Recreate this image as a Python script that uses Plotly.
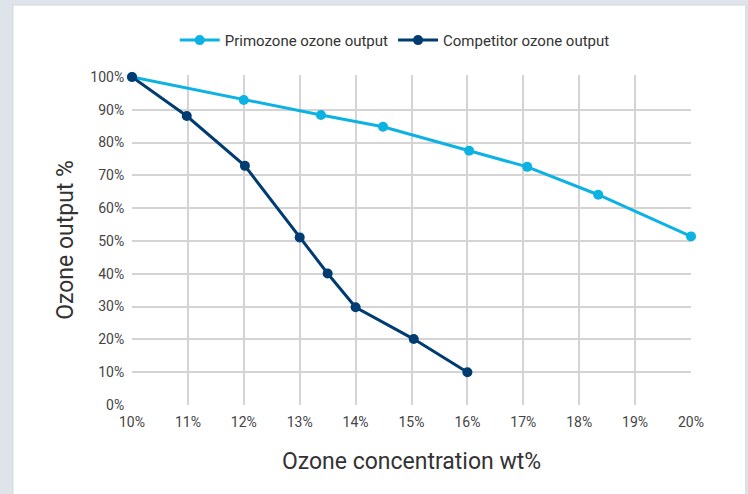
import plotly.graph_objects as go

prim_x = [10, 12, 13.38, 14.49, 16.03, 17.07, 18.34, 20]
prim_y = [100, 93.0, 88.4, 84.8, 77.5, 72.6, 64.1, 51.4]
comp_x = [10, 10.98, 12.02, 13.0, 13.5, 14.0, 15.04, 16.0]
comp_y = [100, 88.1, 72.9, 51.1, 40.1, 29.8, 20.1, 10.0]
x_ticks = list(range(10, 21))
y_ticks = list(range(0, 101, 10))

PRIM = "#0cb2e2"
COMP = "#003b71"
FONT = "Roboto, sans-serif"

fig = go.Figure()
fig.add_trace(go.Scatter(x=prim_x, y=prim_y, mode="lines+markers", name="Primozone ozone output",
                         line=dict(color=PRIM, width=3), marker=dict(size=10, color=PRIM),
                         cliponaxis=False))
fig.add_trace(go.Scatter(x=comp_x, y=comp_y, mode="lines+markers", name="Competitor ozone output",
                         line=dict(color=COMP, width=3), marker=dict(size=10, color=COMP),
                         cliponaxis=False))
# invisible trace for overlay axis carrying the 100% label
fig.add_trace(go.Scatter(x=[10], y=[100], yaxis="y2", mode="markers", marker=dict(opacity=0),
                         showlegend=False, hoverinfo="skip"))

fig.update_layout(
    width=748, height=494,
    margin=dict(l=132, r=57, t=75, b=89, autoexpand=False),
    paper_bgcolor="#dee4e9", plot_bgcolor="white",
    font=dict(family=FONT, color="#3a3a3a", size=14),
    showlegend=True,
    legend=dict(orientation="h", x=0.47, xanchor="center", y=1.105, yanchor="middle",
                font=dict(size=15, color="#333333"), itemwidth=40, bgcolor="rgba(0,0,0,0)"),
    xaxis=dict(range=[10, 20], tickvals=x_ticks, ticktext=[f"{v}%" for v in x_ticks],
               showgrid=True, gridcolor="#d4d4d4", gridwidth=2, zeroline=False,
               showline=False, ticks="outside", ticklen=4, tickcolor="rgba(0,0,0,0)",
               tickfont=dict(size=14, color="#444"),
               title=dict(text="Ozone concentration wt%", font=dict(size=23, color="#333"), standoff=24)),
    yaxis=dict(range=[0, 100.6], tickvals=y_ticks[:-1], ticktext=[f"{v}%" for v in y_ticks[:-1]],
               showgrid=True, gridcolor="#d4d4d4", gridwidth=2, zeroline=False,
               showline=False, ticks="outside", ticklen=4, tickcolor="rgba(0,0,0,0)",
               tickfont=dict(size=14, color="#444"),
               title=dict(text="Ozone output %", font=dict(size=23, color="#333"), standoff=18)),
    yaxis2=dict(overlaying="y", range=[0, 100.6], tickvals=[100], ticktext=["100%"], side="left",
                showgrid=False, zeroline=False, showline=False,
                ticks="outside", ticklen=4, tickcolor="rgba(0,0,0,0)",
                tickfont=dict(size=14, color="#444")),
    shapes=[dict(type="rect", xref="paper", yref="paper", x0=-0.213, x1=1.098, y0=-0.4, y1=1.212,
                 fillcolor="white", line=dict(color="#cfd7de", width=1), layer="below")],
)
fig.write_html("out.html", config={"displayModeBar": False},
               post_script="document.body.style.margin='0';")
